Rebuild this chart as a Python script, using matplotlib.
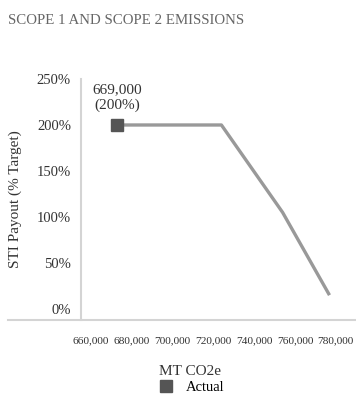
import matplotlib.pyplot as plt
import matplotlib.transforms as mtransforms
from matplotlib.lines import Line2D

# STI payout curve vs. scope 1 + 2 emissions
emissions = [669000, 720000, 750000, 773000]
payout = [2.0, 2.0, 1.05, 0.15]

actual_x = 669000
actual_y = 2.0

x_ticks = [660000, 680000, 700000, 720000, 740000, 760000, 780000]
y_ticks = [0, 0.5, 1.0, 1.5, 2.0, 2.5]

plt.rcParams['font.family'] = ['Liberation Serif', 'DejaVu Serif']

fig = plt.figure(figsize=(3.56, 3.94), dpi=100)
ax = fig.add_axes([0.2267, 0.1878, 0.7733, 0.6117])

ax.plot(emissions, payout, color='#999999', lw=2.4, solid_capstyle='butt', zorder=2)
ax.plot([actual_x], [actual_y], marker='s', ms=9, color='#555555', ls='none',
        label='Actual', zorder=3)
ax.annotate(f"{actual_x:,}\n({actual_y:.0%})", (actual_x, actual_y),
            xytext=(0, 9), textcoords='offset points', ha='center', va='bottom',
            fontsize=11, color='#333333', linespacing=1.3)

ax.set_xlim(651000, 786000)
ax.set_ylim(-0.12, 2.5)
ax.set_xticks(x_ticks)
ax.set_xticklabels([f"{v:,}" for v in x_ticks])
ax.set_yticks(y_ticks)
ax.set_yticklabels([f"{v:.0%}" for v in y_ticks])
ax.tick_params(axis='x', length=0, pad=12, labelsize=8.2, labelcolor='#333333')
ax.tick_params(axis='y', length=0, pad=7, labelsize=10.5, labelcolor='#333333')

# nudge x tick labels slightly left
shift = mtransforms.ScaledTranslation(-8 / 100, 0, fig.dpi_scale_trans)
for lbl in ax.get_xticklabels():
    lbl.set_transform(lbl.get_transform() + shift)

for side in ['top', 'right', 'bottom']:
    ax.spines[side].set_visible(False)
ax.spines['left'].set_color('#d4d4d4')
ax.spines['left'].set_linewidth(1.5)

# baseline runs across the full width
fig.add_artist(Line2D([8 / 356, 1.0], [74 / 394, 74 / 394], color='#d4d4d4', lw=1.5,
                      transform=fig.transFigure))

ax.set_ylabel("STI Payout (% Target)", fontsize=11, color='#333333')
ax.set_xlabel("MT CO2e", fontsize=11, color='#333333')
ax.xaxis.set_label_coords(190 / 356, 29 / 394, transform=fig.transFigure)
ax.yaxis.set_label_coords(22 / 356, 195 / 394, transform=fig.transFigure)

fig.text(8 / 356, 1 - 20 / 394, "SCOPE 1 AND SCOPE 2 EMISSIONS", fontsize=10.7,
         color='#666666', va='center', ha='left')

fig.legend(loc='center', bbox_to_anchor=(188 / 356, 7 / 394), frameon=False,
           fontsize=10.5, handletextpad=0.3, markerscale=1.0, borderpad=0)

fig.savefig('out.png', dpi=100, facecolor='white')
